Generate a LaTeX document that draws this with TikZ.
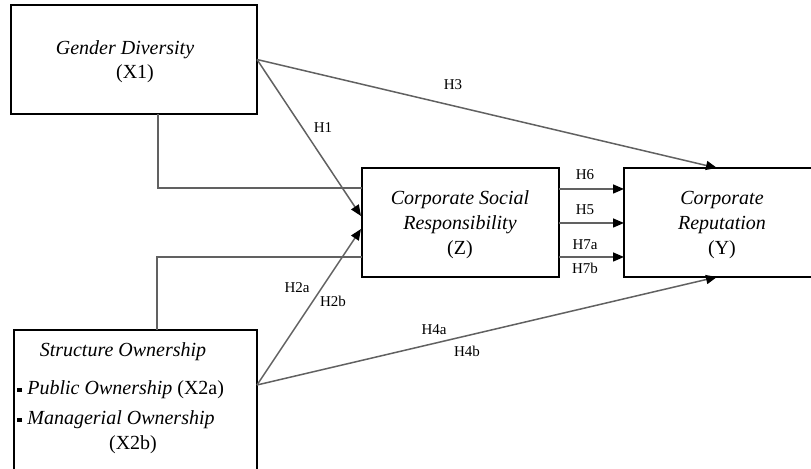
\documentclass[tikz,border=0pt]{standalone}
\usepackage{fontspec}
\setmainfont{Liberation Serif}
\usetikzlibrary{arrows.meta}
\tikzset{
  box/.style={draw=black, line width=1pt, inner sep=0pt, outer sep=0pt, fill=white},
  txt/.style={inner sep=0pt, anchor=base, font=\fontsize{10}{12}\selectfont},
  lbl/.style={inner sep=0pt, anchor=base, font=\fontsize{7.5}{9}\selectfont},
  conn/.style={draw=black!62, line width=0.75pt},
  arr/.style={conn, -{Triangle[length=5.5pt,width=4.5pt,color=black]}},
  bul/.style={fill=black, inner sep=0pt, minimum size=2.4pt}
}
\begin{document}
\begin{tikzpicture}[x=0.5pt,y=-0.5pt]
\useasboundingbox (0,0) rectangle (811,469);
% boxes
\node[box, minimum width=123pt, minimum height=54.5pt] (x1) at (134,59.5) {};
\node[box, minimum width=98.5pt, minimum height=54.5pt] (z) at (460.5,222.5) {};
\node[box, minimum width=106pt, minimum height=54.5pt] (y) at (730,222.5) {};
\node[box, minimum width=121.5pt, minimum height=72.5pt] (x2) at (135.5,402.5) {};
% coordinates
\coordinate (x2out) at (257,385);
\coordinate (zin1) at (361,216);
\coordinate (zin2) at (361,229);
\coordinate (x1dn) at (158,188);
\coordinate (x2up) at (157,257);
\coordinate (zo6) at (559,189);
\coordinate (zo5) at (559,223);
\coordinate (zo7) at (559,257);
\coordinate (ytx) at (717,0);
% connectors
\draw[conn] (x1.south -| x1dn) -- (x1dn) -- (z.west |- x1dn);
\draw[conn] (x2.north -| x2up) -- (x2up) -- (z.west |- x2up);
\draw[arr] (x1.east) -- (y.north -| ytx);
\draw[arr] (x1.east) -- (zin1);
\draw[arr] (x2out) -- (zin2);
\draw[arr] (x2out) -- (y.south -| ytx);
\draw[arr] (zo6) -- (y.west |- zo6);
\draw[arr] (zo5) -- (y.west |- zo5);
\draw[arr] (zo7) -- (y.west |- zo7);
% texts
\node[txt] (t1) at (125,55) {\textit{Gender Diversity}};
\node[txt] (t2) at (135,79) {(X1)};
\node[txt] (t3) at (460,205) {\textit{Corporate Social}};
\node[txt] (t4) at (460,230) {\textit{Responsibility}};
\node[txt] (t5) at (460,255) {(Z)};
\node[txt] (t6) at (722,205) {\textit{Corporate}};
\node[txt] (t7) at (722,230) {\textit{Reputation}};
\node[txt] (t8) at (722,255) {(Y)};
\node[txt] (t9) at (123,357) {\textit{Structure Ownership}};
\node[txt, anchor=base west] (t10) at (27,395) {\textit{Public Ownership} (X2a)};
\node[txt, anchor=base west] (t11) at (27,425) {\textit{Managerial Ownership}};
\node[txt] (t12) at (133,450) {(X2b)};
\node[bul] (b1) at (19.5,390) {};
\node[bul] (b2) at (19.5,420) {};
% labels
\node[lbl] (h3) at (453,90) {H3};
\node[lbl] (h1) at (323,133) {H1};
\node[lbl] (h6) at (585,180) {H6};
\node[lbl] (h5) at (585,215) {H5};
\node[lbl] (h7a) at (585,250) {H7a};
\node[lbl] (h7b) at (585,274) {H7b};
\node[lbl] (h2a) at (297,293) {H2a};
\node[lbl] (h2b) at (333,307) {H2b};
\node[lbl] (h4a) at (434,335) {H4a};
\node[lbl] (h4b) at (467,357) {H4b};
\end{tikzpicture}
\end{document}
